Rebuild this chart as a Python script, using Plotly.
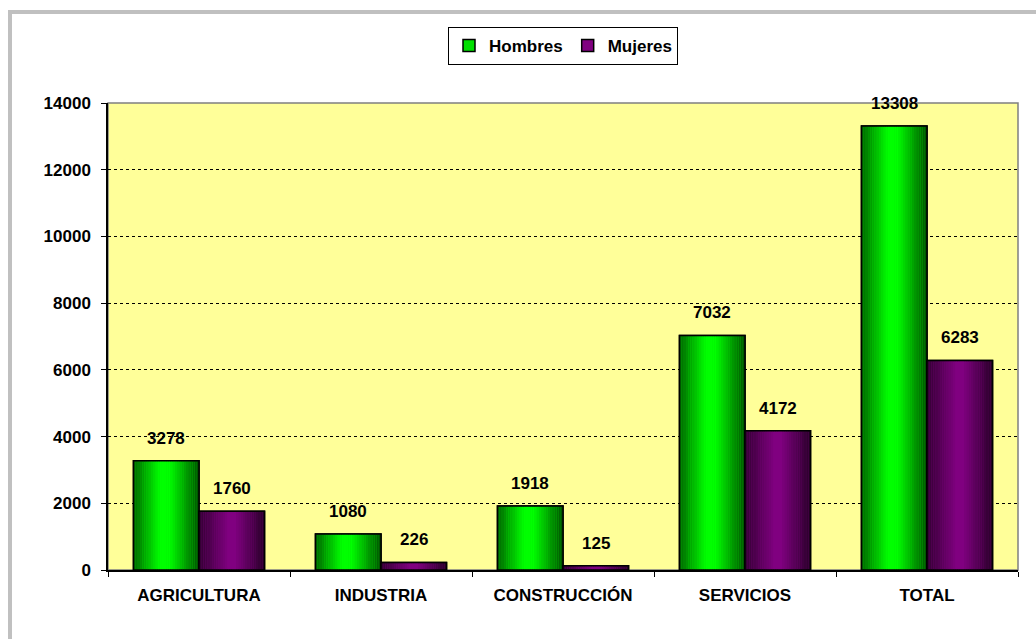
import plotly.graph_objects as go

# ---- data ----
categories = ["AGRICULTURA", "INDUSTRIA", "CONSTRUCCIÓN", "SERVICIOS", "TOTAL"]
hombres = [3278, 1080, 1918, 7032, 13308]
mujeres = [1760, 226, 125, 4172, 6283]
series_names = ["Hombres", "Mujeres"]
y_ticks = [0, 2000, 4000, 6000, 8000, 10000, 12000, 14000]

# ---- style ----
W, H = 1036, 639
ML, MR, MT, MB = 108, 18, 103, 69
FONT = "Liberation Sans, Arial, sans-serif"
FS = 17
BAR_W = 0.36
N_SLICES = 30
solid_colors = ["#00E000", "#800080"]
gradients = [
    [(0.0, (0, 100, 0)), (0.40, (0, 255, 0)), (0.55, (0, 255, 0)), (1.0, (0, 80, 0))],
    [(0.0, (50, 0, 50)), (0.45, (128, 0, 128)), (0.55, (128, 0, 128)), (1.0, (40, 0, 40))],
]
offsets = [-BAR_W, 0.0]
label_shift = [-33, 33]


def grad_color(stops, t):
    for (p0, c0), (p1, c1) in zip(stops[:-1], stops[1:]):
        if p0 <= t <= p1:
            f = 0 if p1 == p0 else (t - p0) / (p1 - p0)
            c = [round(a + (b - a) * f) for a, b in zip(c0, c1)]
            return "rgb(%d,%d,%d)" % tuple(c)
    c = stops[-1][1]
    return "rgb(%d,%d,%d)" % tuple(c)


fig = go.Figure()
values_list = [hombres, mujeres]

for s, (name, vals) in enumerate(zip(series_names, values_list)):
    # base solid bar (provides legend swatch)
    fig.add_trace(go.Bar(
        x=categories, y=vals, name=name, width=BAR_W, offset=offsets[s],
        marker=dict(color=solid_colors[s], line=dict(color="black", width=1.5)),
        showlegend=True, hoverinfo="skip",
    ))
    # gradient slices
    sw = BAR_W / N_SLICES
    for k in range(N_SLICES):
        t = (k + 0.5) / N_SLICES
        fig.add_trace(go.Bar(
            x=categories, y=vals, width=sw * 1.02, offset=offsets[s] + k * sw,
            marker=dict(color=grad_color(gradients[s], t), line=dict(width=0)),
            showlegend=False, hoverinfo="skip",
        ))
    # outline on top
    fig.add_trace(go.Bar(
        x=categories, y=vals, width=BAR_W, offset=offsets[s],
        marker=dict(color="rgba(0,0,0,0)", line=dict(color="black", width=1.5)),
        showlegend=False, hoverinfo="skip",
    ))

annotations = []
for s, vals in enumerate(values_list):
    for c, v in zip(categories, vals):
        annotations.append(dict(
            x=c, y=v, xref="x", yref="y", text=str(v), showarrow=False,
            xshift=label_shift[s], yshift=11, yanchor="bottom",
            font=dict(family=FONT, size=FS, color="black", weight="bold"),
        ))

pw = W - ML - MR
ph = H - MT - MB
shapes = [
    # plot area frame (gray top/right)
    dict(type="rect", xref="paper", yref="paper", x0=0, x1=1, y0=0, y1=1,
         line=dict(color="#808080", width=1.5), layer="below"),
    # outer chart frame
    dict(type="rect", xref="paper", yref="paper",
         x0=(10 - ML) / pw, x1=(W + 20 - ML) / pw,
         y0=1 - (H + 20 - MT) / ph, y1=1 - (12 - MT) / ph,
         line=dict(color="#C0C0C0", width=4), layer="below"),
]

fig.update_layout(
    width=W, height=H,
    margin=dict(l=ML, r=MR, t=MT, b=MB),
    paper_bgcolor="white", plot_bgcolor="#FFFF99",
    barmode="overlay",
    font=dict(family=FONT, size=FS, color="black"),
    showlegend=True,
    legend=dict(
        orientation="h", x=0.5, xanchor="center", y=1 + 38 / ph, yanchor="bottom",
        bordercolor="black", borderwidth=1, bgcolor="white",
        font=dict(family=FONT, size=FS, color="black", weight="bold"),
        itemwidth=30, tracegroupgap=0,
    ),
    annotations=annotations,
    shapes=shapes,
    xaxis=dict(
        type="category", categoryorder="array", categoryarray=categories,
        showline=True, linecolor="black", linewidth=1.5,
        ticks="outside", ticklen=5, tickcolor="black", tickwidth=1,
        tickson="boundaries", showgrid=False,
        tickfont=dict(family=FONT, size=FS, color="black", weight="bold"),
        ticklabelstandoff=9, range=[-0.5, 4.5],
    ),
    yaxis=dict(
        range=[0, 14000], tickvals=y_ticks, ticktext=[str(t) for t in y_ticks],
        showline=True, linecolor="black", linewidth=1.5,
        ticks="outside", ticklen=5, tickcolor="black", tickwidth=1,
        showgrid=True, gridcolor="black", gridwidth=1, griddash="3px,3px",
        zeroline=False,
        tickfont=dict(family=FONT, size=FS, color="black", weight="bold"),
        ticklabelstandoff=7,
    ),
)

fig.write_html("out.html", config={"displayModeBar": False},
               post_script="document.body.style.margin='0';")
